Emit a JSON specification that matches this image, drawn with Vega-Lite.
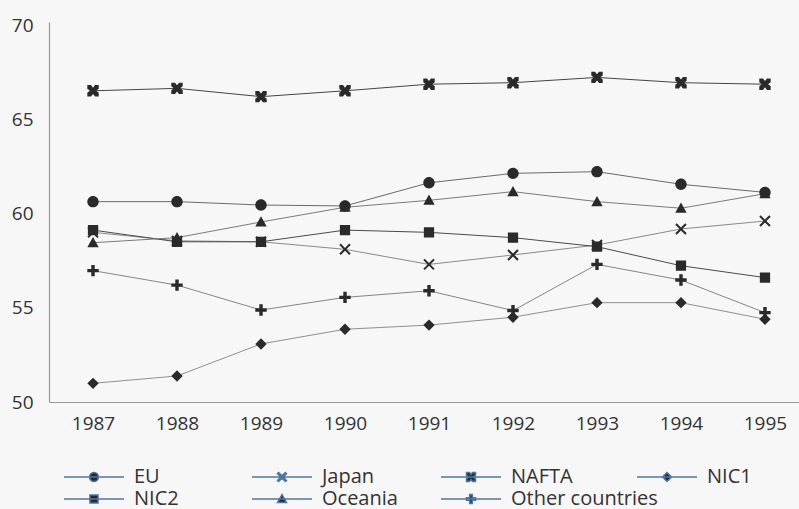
{
  "$schema": "https://vega.github.io/schema/vega-lite/v6.json",
  "width": 750,
  "height": 380,
  "autosize": "none",
  "padding": {"left": 49, "top": 22, "right": 0, "bottom": 107},
  "background": "#f7f7f7",
  "config": {"view": {"stroke": null}, "font": "Open Sans"},
  "data": {"values": [
    {"year": 1987, "series": "EU", "value": 60.63},
    {"year": 1988, "series": "EU", "value": 60.63},
    {"year": 1989, "series": "EU", "value": 60.45},
    {"year": 1990, "series": "EU", "value": 60.4},
    {"year": 1991, "series": "EU", "value": 61.63},
    {"year": 1992, "series": "EU", "value": 62.13},
    {"year": 1993, "series": "EU", "value": 62.22},
    {"year": 1994, "series": "EU", "value": 61.55},
    {"year": 1995, "series": "EU", "value": 61.12},
    {"year": 1987, "series": "Japan", "value": 59.0},
    {"year": 1988, "series": "Japan", "value": 58.55},
    {"year": 1989, "series": "Japan", "value": 58.5},
    {"year": 1990, "series": "Japan", "value": 58.1},
    {"year": 1991, "series": "Japan", "value": 57.3},
    {"year": 1992, "series": "Japan", "value": 57.8},
    {"year": 1993, "series": "Japan", "value": 58.33},
    {"year": 1994, "series": "Japan", "value": 59.18},
    {"year": 1995, "series": "Japan", "value": 59.6},
    {"year": 1987, "series": "NAFTA", "value": 66.51},
    {"year": 1988, "series": "NAFTA", "value": 66.64},
    {"year": 1989, "series": "NAFTA", "value": 66.2},
    {"year": 1990, "series": "NAFTA", "value": 66.51},
    {"year": 1991, "series": "NAFTA", "value": 66.86},
    {"year": 1992, "series": "NAFTA", "value": 66.94},
    {"year": 1993, "series": "NAFTA", "value": 67.22},
    {"year": 1994, "series": "NAFTA", "value": 66.94},
    {"year": 1995, "series": "NAFTA", "value": 66.86},
    {"year": 1987, "series": "NIC1", "value": 50.99},
    {"year": 1988, "series": "NIC1", "value": 51.38},
    {"year": 1989, "series": "NIC1", "value": 53.08},
    {"year": 1990, "series": "NIC1", "value": 53.86},
    {"year": 1991, "series": "NIC1", "value": 54.08},
    {"year": 1992, "series": "NIC1", "value": 54.5},
    {"year": 1993, "series": "NIC1", "value": 55.27},
    {"year": 1994, "series": "NIC1", "value": 55.27},
    {"year": 1995, "series": "NIC1", "value": 54.39},
    {"year": 1987, "series": "NIC2", "value": 59.12},
    {"year": 1988, "series": "NIC2", "value": 58.5},
    {"year": 1989, "series": "NIC2", "value": 58.5},
    {"year": 1990, "series": "NIC2", "value": 59.12},
    {"year": 1991, "series": "NIC2", "value": 59.0},
    {"year": 1992, "series": "NIC2", "value": 58.72},
    {"year": 1993, "series": "NIC2", "value": 58.24},
    {"year": 1994, "series": "NIC2", "value": 57.23},
    {"year": 1995, "series": "NIC2", "value": 56.6},
    {"year": 1987, "series": "Oceania", "value": 58.45},
    {"year": 1988, "series": "Oceania", "value": 58.72},
    {"year": 1989, "series": "Oceania", "value": 59.55},
    {"year": 1990, "series": "Oceania", "value": 60.33},
    {"year": 1991, "series": "Oceania", "value": 60.7},
    {"year": 1992, "series": "Oceania", "value": 61.16},
    {"year": 1993, "series": "Oceania", "value": 60.63},
    {"year": 1994, "series": "Oceania", "value": 60.28},
    {"year": 1995, "series": "Oceania", "value": 61.05},
    {"year": 1987, "series": "Other countries", "value": 56.97},
    {"year": 1988, "series": "Other countries", "value": 56.2},
    {"year": 1989, "series": "Other countries", "value": 54.88},
    {"year": 1990, "series": "Other countries", "value": 55.55},
    {"year": 1991, "series": "Other countries", "value": 55.9},
    {"year": 1992, "series": "Other countries", "value": 54.85},
    {"year": 1993, "series": "Other countries", "value": 57.3},
    {"year": 1994, "series": "Other countries", "value": 56.47},
    {"year": 1995, "series": "Other countries", "value": 54.74}
  ]},
  "encoding": {
    "x": {
      "field": "year", "type": "quantitative",
      "scale": {"domain": [1986.476, 1995.405], "nice": false, "zero": false},
      "axis": {"values": [1987, 1988, 1989, 1990, 1991, 1992, 1993, 1994, 1995], "format": "d", "title": null, "ticks": false, "grid": false, "domainColor": "#999", "domainWidth": 1.2, "labelPadding": 12, "labelFontSize": 19, "labelColor": "#333", "labelFlush": false, "labelFont": "Open Sans"}
    },
    "y": {
      "field": "value", "type": "quantitative",
      "scale": {"domain": [50, 70.16], "nice": false, "zero": false},
      "axis": {"values": [50, 55, 60, 65, 70], "title": null, "ticks": false, "grid": false, "domainColor": "#999", "domainWidth": 1.2, "labelPadding": 16, "labelFontSize": 19, "labelColor": "#333", "labelFont": "Open Sans"}
    }
  },
  "layer": [
    {
      "mark": {"type": "line", "strokeWidth": 1},
      "encoding": {
        "color": {"field": "series", "type": "nominal", "legend": null,
          "scale": {"domain": ["EU", "Japan", "NAFTA", "NIC1", "NIC2", "Oceania", "Other countries"],
                    "range": ["#6a6a6a", "#8a8a8a", "#444444", "#909090", "#4a4a4a", "#7a7a7a", "#858585"]}}
      }
    },
    {
      "transform": [{"filter": {"field": "series", "equal": "EU"}}],
      "mark": {"type": "point", "filled": false, "fill": "#2a2a2a", "fillOpacity": 1, "size": 130, "opacity": 1, "strokeWidth": 0},
      "encoding": {"shape": {"field": "series", "type": "nominal",
        "scale": {"domain": ["EU"], "range": ["M-6.67,0H6.67M-1,0A1,1,0,1,1,1,0A1,1,0,1,1,-1,0Z"]},
        "legend": {"title": null, "orient": "none", "legendX": 35, "legendY": 445, "symbolSize": 81, "labelOffset": 30, "labelFontSize": 20, "labelFont": "Open Sans", "labelColor": "#333", "padding": 0, "encode": {"symbols": {"stroke": {"value": "#555"}, "strokeWidth": {"value": 1}}}}}}
    },
    {
      "transform": [{"filter": {"field": "series", "equal": "Japan"}}],
      "mark": {"type": "point", "filled": false, "fill": "#2a2a2a", "fillOpacity": 1, "size": 130, "opacity": 1, "strokeWidth": 0},
      "encoding": {"shape": {"field": "series", "type": "nominal",
        "scale": {"domain": ["Japan"], "range": ["M-6.67,0H6.67M-1,-0.75L-0.75,-1L0,-0.25L0.75,-1L1,-0.75L0.25,0L1,0.75L0.75,1L0,0.25L-0.75,1L-1,0.75L-0.25,0Z"]},
        "legend": {"title": null, "orient": "none", "legendX": 223, "legendY": 445, "symbolSize": 81, "labelOffset": 30, "labelFontSize": 20, "labelFont": "Open Sans", "labelColor": "#333", "padding": 0, "encode": {"symbols": {"stroke": {"value": "#888"}, "strokeWidth": {"value": 1}}}}}}
    },
    {
      "transform": [{"filter": {"field": "series", "equal": "NAFTA"}}],
      "mark": {"type": "point", "filled": false, "fill": "#2a2a2a", "fillOpacity": 1, "size": 130, "opacity": 1, "strokeWidth": 0},
      "encoding": {"shape": {"field": "series", "type": "nominal",
        "scale": {"domain": ["NAFTA"], "range": ["M-6.67,0H6.67M-1,-1H-0.35L0,-0.55L0.35,-1H1V-0.35L0.55,0L1,0.35V1H0.35L0,0.55L-0.35,1H-1V0.35L-0.55,0L-1,-0.35Z"]},
        "legend": {"title": null, "orient": "none", "legendX": 412, "legendY": 445, "symbolSize": 81, "labelOffset": 30, "labelFontSize": 20, "labelFont": "Open Sans", "labelColor": "#333", "padding": 0, "encode": {"symbols": {"stroke": {"value": "#444"}, "strokeWidth": {"value": 1}}}}}}
    },
    {
      "transform": [{"filter": {"field": "series", "equal": "NIC1"}}],
      "mark": {"type": "point", "filled": false, "fill": "#2a2a2a", "fillOpacity": 1, "size": 130, "opacity": 1, "strokeWidth": 0},
      "encoding": {"shape": {"field": "series", "type": "nominal",
        "scale": {"domain": ["NIC1"], "range": ["M-6.67,0H6.67M0,-1L1,0L0,1L-1,0Z"]},
        "legend": {"title": null, "orient": "none", "legendX": 608, "legendY": 445, "symbolSize": 81, "labelOffset": 30, "labelFontSize": 20, "labelFont": "Open Sans", "labelColor": "#333", "padding": 0, "encode": {"symbols": {"stroke": {"value": "#999"}, "strokeWidth": {"value": 1}}}}}}
    },
    {
      "transform": [{"filter": {"field": "series", "equal": "NIC2"}}],
      "mark": {"type": "point", "filled": false, "fill": "#2a2a2a", "fillOpacity": 1, "size": 130, "opacity": 1, "strokeWidth": 0},
      "encoding": {"shape": {"field": "series", "type": "nominal",
        "scale": {"domain": ["NIC2"], "range": ["M-6.67,0H6.67M-0.9,-0.9H0.9V0.9H-0.9Z"]},
        "legend": {"title": null, "orient": "none", "legendX": 35, "legendY": 467, "symbolSize": 81, "labelOffset": 30, "labelFontSize": 20, "labelFont": "Open Sans", "labelColor": "#333", "padding": 0, "encode": {"symbols": {"stroke": {"value": "#444"}, "strokeWidth": {"value": 1}}}}}}
    },
    {
      "transform": [{"filter": {"field": "series", "equal": "Oceania"}}],
      "mark": {"type": "point", "filled": false, "fill": "#2a2a2a", "fillOpacity": 1, "size": 130, "opacity": 1, "strokeWidth": 0},
      "encoding": {"shape": {"field": "series", "type": "nominal",
        "scale": {"domain": ["Oceania"], "range": ["M-6.67,0H6.67M0,-1L1,0.8H-1Z"]},
        "legend": {"title": null, "orient": "none", "legendX": 223, "legendY": 467, "symbolSize": 81, "labelOffset": 30, "labelFontSize": 20, "labelFont": "Open Sans", "labelColor": "#333", "padding": 0, "encode": {"symbols": {"stroke": {"value": "#777"}, "strokeWidth": {"value": 1}}}}}}
    },
    {
      "transform": [{"filter": {"field": "series", "equal": "Other countries"}}],
      "mark": {"type": "point", "filled": false, "fill": "#2a2a2a", "fillOpacity": 1, "size": 130, "opacity": 1, "strokeWidth": 0},
      "encoding": {"shape": {"field": "series", "type": "nominal",
        "scale": {"domain": ["Other countries"], "range": ["M-6.67,0H6.67M-0.3,-1H0.3V-0.3H1V0.3H0.3V1H-0.3V0.3H-1V-0.3H-0.3Z"]},
        "legend": {"title": null, "orient": "none", "legendX": 412, "legendY": 467, "symbolSize": 81, "labelOffset": 30, "labelFontSize": 20, "labelFont": "Open Sans", "labelColor": "#333", "padding": 0, "encode": {"symbols": {"stroke": {"value": "#555"}, "strokeWidth": {"value": 1}}}}}}
    }
  ],
  "resolve": {"scale": {"shape": "independent"}, "legend": {"shape": "independent"}}
}
